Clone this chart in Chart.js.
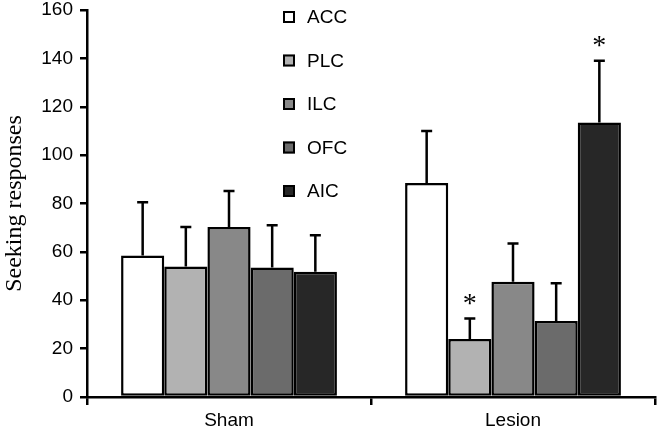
<!DOCTYPE html>
<html>
<head>
<meta charset="utf-8">
<script src="https://cdn.jsdelivr.net/npm/chart.js@4/dist/chart.umd.min.js"></script>
<style>
html,body{margin:0;padding:0;background:#fff;}
#wrap{width:659px;height:436px;position:relative;}
</style>
</head>
<body>
<div id="wrap"><canvas id="c" width="659" height="436"></canvas></div>
<script>
// ---- data ----
const categories = ['Sham', 'Lesion'];
const regions = ['ACC', 'PLC', 'ILC', 'OFC', 'AIC'];
const accMean = [58.5, 88.5];
const accErr  = [22.0, 21.5];
const plcMean = [54.0, 24.0];
const plcErr  = [16.3, 8.5];
const ilcMean = [70.3, 47.6];
const ilcErr  = [14.9, 15.9];
const ofcMean = [53.5, 31.4];
const ofcErr  = [17.5, 15.6];
const aicMean = [51.8, 113.5];
const aicErr  = [15.1, 25.5];
const sigCategory = ['Lesion', 'Lesion'];
const sigRegion   = ['PLC', 'AIC'];
const yTicks = [0, 20, 40, 60, 80, 100, 120, 140, 160];
const yTitle = 'Seeking responses';

const means = [accMean, plcMean, ilcMean, ofcMean, aicMean];
const errs  = [accErr, plcErr, ilcErr, ofcErr, aicErr];
const fills = ['#ffffff', '#b2b2b2', '#888888', '#6b6b6b', '#272727'];

const datasets = regions.map((r, i) => ({
  label: r,
  data: means[i],
  err: errs[i],
  backgroundColor: fills[i],
  borderColor: '#000',
  borderWidth: 2.5,
  borderSkipped: false,
  categoryPercentage: 0.76,
  barPercentage: 1.0
}));

const errorBars = {
  id: 'errorBars',
  afterDatasetsDraw(chart) {
    const ctx = chart.ctx;
    const y = chart.scales.y;
    ctx.save();
    ctx.strokeStyle = '#000';
    ctx.lineWidth = 2.5;
    chart.data.datasets.forEach((ds, di) => {
      const meta = chart.getDatasetMeta(di);
      meta.data.forEach((bar, j) => {
        const top = y.getPixelForValue(ds.data[j]);
        const et = y.getPixelForValue(ds.data[j] + ds.err[j]);
        ctx.beginPath();
        ctx.moveTo(bar.x, top);
        ctx.lineTo(bar.x, et);
        ctx.moveTo(bar.x - 5.5, et);
        ctx.lineTo(bar.x + 5.5, et);
        ctx.stroke();
      });
    });
    // significance asterisks
    ctx.fillStyle = '#000';
    ctx.font = '28px "Liberation Serif"';
    ctx.textAlign = 'center';
    ctx.textBaseline = 'middle';
    sigCategory.forEach((cat, k) => {
      const j = categories.indexOf(cat);
      const di = regions.indexOf(sigRegion[k]);
      const ds = chart.data.datasets[di];
      const bar = chart.getDatasetMeta(di).data[j];
      const et = y.getPixelForValue(ds.data[j] + ds.err[j]);
      ctx.fillText('*', bar.x, et - 14);
    });
    ctx.restore();
  }
};

const customLegend = {
  id: 'customLegend',
  afterDraw(chart) {
    const ctx = chart.ctx;
    const x0 = chart.chartArea.left + 196;
    const y0 = chart.chartArea.top + 7;
    ctx.save();
    ctx.font = '19px "Liberation Sans"';
    ctx.textBaseline = 'middle';
    ctx.textAlign = 'left';
    chart.data.datasets.forEach((ds, i) => {
      const cy = y0 + i * 43.5;
      ctx.fillStyle = ds.backgroundColor;
      ctx.fillRect(x0, cy - 6, 12, 12);
      ctx.strokeStyle = '#000';
      ctx.lineWidth = 2;
      ctx.strokeRect(x0 + 1, cy - 5, 10, 10);
      ctx.fillStyle = '#000';
      ctx.fillText(ds.label, x0 + 24, cy + 1);
    });
    ctx.restore();
  }
};

new Chart(document.getElementById('c'), {
  type: 'bar',
  data: { labels: categories, datasets: datasets },
  options: {
    responsive: false,
    animation: false,
    devicePixelRatio: 1,
    layout: { padding: { top: 0, right: 4, left: 0, bottom: 0 } },
    plugins: { legend: { display: false }, tooltip: { enabled: false } },
    scales: {
      x: {
        offset: true,
        grid: { offset: true, drawOnChartArea: false, color: '#000', lineWidth: 2.5, tickLength: 8 },
        border: { color: '#000', width: 2.5 },
        ticks: { color: '#000', font: { family: 'Liberation Sans', size: 19 }, padding: 4 },
        afterFit(s) { s.height = 39; }
      },
      y: {
        min: 0, max: 160,
        afterBuildTicks(s) { s.ticks = yTicks.map(v => ({ value: v })); },
        grid: { drawOnChartArea: false, color: '#000', lineWidth: 2.5, tickLength: 7 },
        border: { color: '#000', width: 2.5 },
        ticks: { color: '#000', font: { family: 'Liberation Sans', size: 19 }, padding: 7 },
        title: { display: true, text: yTitle, color: '#000', font: { family: 'Liberation Serif', size: 24, weight: 'normal' }, padding: { top: 0, bottom: 0 } },
        afterFit(s) { s.width = 87; s.paddingTop = 10; s.paddingBottom = 0; }
      }
    }
  },
  plugins: [errorBars, customLegend]
});
</script>
</body>
</html>
